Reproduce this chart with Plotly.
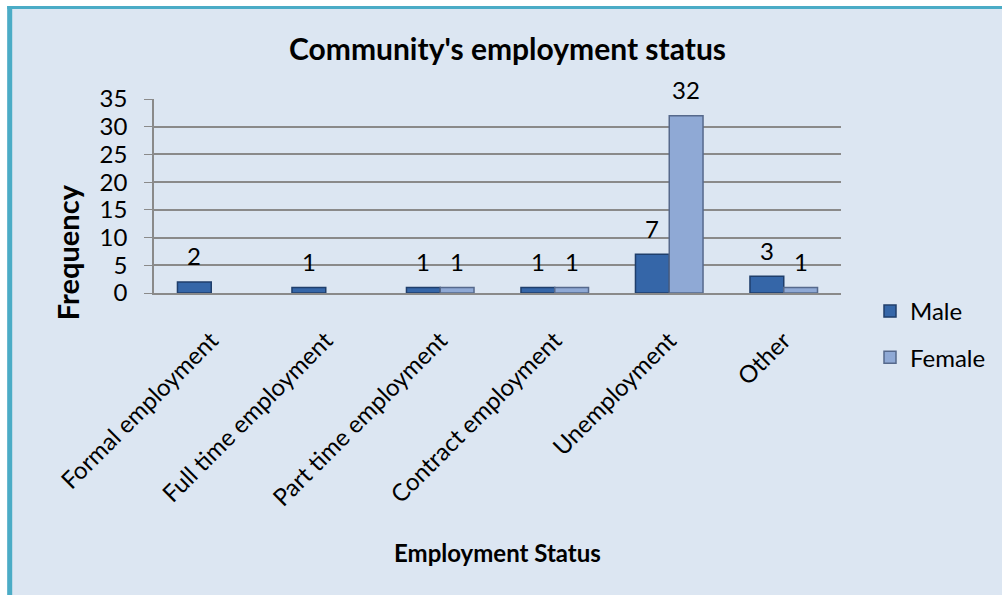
import plotly.graph_objects as go

# Survey counts by employment status and sex
categories = [
    "Formal employment",
    "Full time employment",
    "Part time employment",
    "Contract employment",
    "Unemployment",
    "Other",
]
male = [2, 1, 1, 1, 7, 3]
female = [None, None, 1, 1, 32, 1]
y_ticks = [0, 5, 10, 15, 20, 25, 30, 35]

W, H = 1002, 595
ML, MR, MT, MB = 154, 160, 99, 302
PW, PH = W - ML - MR, H - MT - MB
BARGAP = 0.41
FONT = "Lato"
BG = "#dce6f2"
GRID = "#8a8a8a"

cat_px = PW / len(categories)
half_bar = (1 - BARGAP) / 2 * cat_px / 2


def px_x(px):
    return (px - ML) / PW


def px_y(py):
    return (H - MB - py) / PH


fig = go.Figure()
fig.add_trace(go.Bar(
    name="Male", x=categories, y=male,
    marker=dict(color="#3566a8", line=dict(color="#1f3e6b", width=1.5)),
    legendgroup="m",
))
fig.add_trace(go.Bar(
    name="Female", x=categories, y=female,
    marker=dict(color="#8fa9d5", line=dict(color="#56698c", width=1.5)),
    legendgroup="f",
))

annotations = []
# value labels above each bar
for vals, sign in ((male, -1), (female, 1)):
    for c, v in zip(categories, vals):
        if v is None:
            continue
        annotations.append(dict(
            x=c, y=v, xref="x", yref="y", text=str(v), showarrow=False,
            xshift=sign * half_bar, yshift=26, yanchor="middle",
            font=dict(family=FONT, size=24, color="black"),
        ))

annotations += [
    dict(text="<b>Community's employment status</b>", x=px_x(508), y=px_y(48),
         xref="paper", yref="paper", showarrow=False, xanchor="center", yanchor="middle",
         font=dict(family=FONT, size=30, color="black")),
    dict(text="<b>Frequency</b>", x=px_x(67), y=px_y(252), textangle=-90,
         xref="paper", yref="paper", showarrow=False, xanchor="center", yanchor="middle",
         font=dict(family=FONT, size=29, color="black")),
    dict(text="<b>Employment Status</b>", x=px_x(498), y=px_y(552),
         xref="paper", yref="paper", showarrow=False, xanchor="center", yanchor="middle",
         font=dict(family=FONT, size=24, color="black")),
]

shapes = [
    # white strip outside the chart frame
    dict(type="rect", xref="paper", yref="paper", x0=px_x(-5), x1=px_x(W + 5),
         y0=px_y(-5), y1=px_y(6), fillcolor="white", line=dict(width=0), layer="above"),
    dict(type="rect", xref="paper", yref="paper", x0=px_x(-5), x1=px_x(7),
         y0=px_y(-5), y1=px_y(H + 5), fillcolor="white", line=dict(width=0), layer="above"),
    # teal frame
    dict(type="line", xref="paper", yref="paper", x0=px_x(7), x1=px_x(W + 5),
         y0=px_y(7.5), y1=px_y(7.5), line=dict(color="#4bacc6", width=3), layer="above"),
    dict(type="line", xref="paper", yref="paper", x0=px_x(9.5), x1=px_x(9.5),
         y0=px_y(6), y1=px_y(H + 5), line=dict(color="#4bacc6", width=5), layer="above"),
]

fig.update_layout(
    width=W, height=H,
    margin=dict(l=ML, r=MR, t=MT, b=MB, pad=0),
    paper_bgcolor=BG, plot_bgcolor=BG,
    barmode="group", bargap=BARGAP, bargroupgap=0,
    font=dict(family=FONT, size=24, color="black"),
    showlegend=True,
    legend=dict(x=px_x(870), y=px_y(289), xanchor="left", yanchor="top",
                bgcolor="rgba(0,0,0,0)", font=dict(family=FONT, size=24),
                tracegroupgap=12, traceorder="grouped", itemwidth=30),
    annotations=annotations,
    shapes=shapes,
)
fig.update_xaxes(
    type="category", tickangle=-45, showgrid=False,
    showline=True, linecolor=GRID, linewidth=2, ticks="",
    ticklabelstandoff=22, tickfont=dict(family=FONT, size=24),
)
fig.update_yaxes(
    range=[0, 35], tickvals=y_ticks, showgrid=True, gridcolor=GRID, gridwidth=1.5,
    showline=True, linecolor=GRID, linewidth=1.5, ticks="outside", ticklen=8,
    tickcolor=GRID, zeroline=False, ticklabelstandoff=12,
    tickfont=dict(family=FONT, size=24),
)

fig.write_html("out.html")
